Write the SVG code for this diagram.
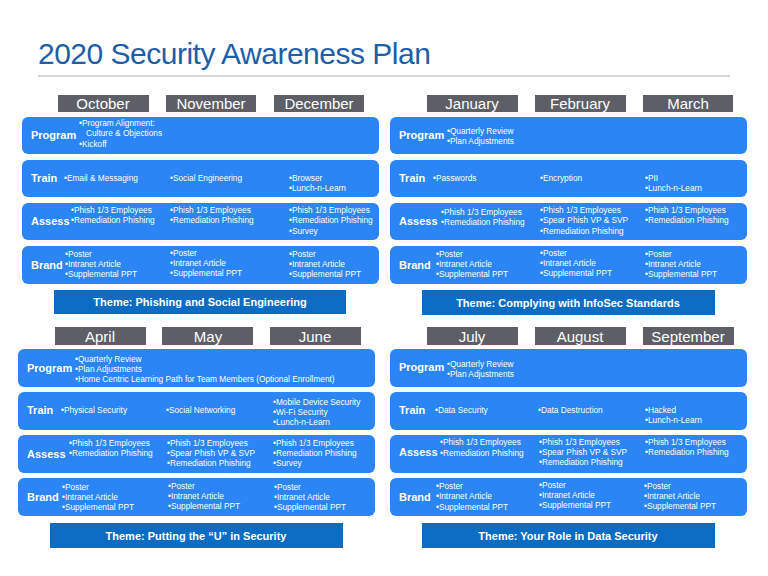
<svg xmlns="http://www.w3.org/2000/svg" width="768" height="576" viewBox="0 0 768 576">
<style>
.row{fill:#2b85f4}
.hd{fill:#5e5e66}
.th{fill:#0b6cc4}
.mt{font:15px "Liberation Sans",Arial,sans-serif;fill:#fff;text-anchor:middle}
.lb{font:bold 11px "Liberation Sans",Arial,sans-serif;fill:#fff}
.t{font:8.3px "Liberation Sans",Arial,sans-serif;fill:#fff}
.tt{font:bold 11px "Liberation Sans",Arial,sans-serif;fill:#fff;text-anchor:middle}
</style>
<rect width="768" height="576" fill="#fff"/>
<text x="38" y="64" font-family="Liberation Sans,Arial,sans-serif" font-size="30" fill="#1c5ea9" letter-spacing="-0.5">2020 Security Awareness Plan</text>
<line x1="38" y1="76" x2="730" y2="76" stroke="#b0b0b0" stroke-width="1"/>

<g id="q1">
<rect class="hd" x="58" y="95" width="91" height="17"/><text class="mt" x="103" y="109">October</text>
<rect class="hd" x="166" y="95" width="90" height="17"/><text class="mt" x="211" y="109">November</text>
<rect class="hd" x="274" y="95" width="90" height="17"/><text class="mt" x="319" y="109">December</text>
<rect class="row" x="22" y="117" width="357" height="37" rx="6"/>
<text class="lb" x="31" y="139">Program</text>
<text class="t" x="79" y="126">•Program Alignment:</text><text class="t" x="86" y="136">Culture &amp; Objections</text><text class="t" x="79" y="147">•Kickoff</text>
<rect class="row" x="22" y="160" width="357" height="37" rx="6"/>
<text class="lb" x="31" y="182">Train</text>
<text class="t" x="64" y="181">•Email &amp; Messaging</text><text class="t" x="170" y="181">•Social Engineering</text>
<text class="t" x="289" y="181">•Browser</text><text class="t" x="289" y="191">•Lunch-n-Learn</text>
<rect class="row" x="22" y="203" width="357" height="37" rx="6"/>
<text class="lb" x="31" y="225">Assess</text>
<text class="t" x="71" y="213">•Phish 1/3 Employees</text><text class="t" x="71" y="223">•Remediation Phishing</text>
<text class="t" x="170" y="213">•Phish 1/3 Employees</text><text class="t" x="170" y="223">•Remediation Phishing</text>
<text class="t" x="289" y="213">•Phish 1/3 Employees</text><text class="t" x="289" y="223">•Remediation Phishing</text><text class="t" x="289" y="234">•Survey</text>
<rect class="row" x="22" y="246" width="357" height="38" rx="6"/>
<text class="lb" x="31" y="269">Brand</text>
<text class="t" x="65" y="257">•Poster</text><text class="t" x="65" y="267">•Intranet Article</text><text class="t" x="65" y="277">•Supplemental  PPT</text>
<text class="t" x="170" y="256">•Poster</text><text class="t" x="170" y="266">•Intranet Article</text><text class="t" x="170" y="276">•Supplemental  PPT</text>
<text class="t" x="289" y="257">•Poster</text><text class="t" x="289" y="267">•Intranet Article</text><text class="t" x="289" y="277">•Supplemental  PPT</text>
<rect class="th" x="54" y="290" width="292" height="24"/><text class="tt" x="200" y="306">Theme: Phishing and Social Engineering</text>
</g>

<g id="q2">
<rect class="hd" x="427" y="95" width="91" height="17"/><text class="mt" x="472" y="109">January</text>
<rect class="hd" x="535" y="95" width="91" height="17"/><text class="mt" x="580" y="109">February</text>
<rect class="hd" x="643" y="95" width="90" height="17"/><text class="mt" x="688" y="109">March</text>
<rect class="row" x="390" y="117" width="357" height="37" rx="6"/>
<text class="lb" x="399" y="139">Program</text>
<text class="t" x="447" y="134">•Quarterly Review</text><text class="t" x="447" y="144">•Plan Adjustments</text>
<rect class="row" x="390" y="160" width="357" height="37" rx="6"/>
<text class="lb" x="399" y="182">Train</text>
<text class="t" x="433" y="181">•Passwords</text><text class="t" x="540" y="181">•Encryption</text>
<text class="t" x="645" y="181">•PII</text><text class="t" x="645" y="191">•Lunch-n-Learn</text>
<rect class="row" x="390" y="203" width="357" height="37" rx="6"/>
<text class="lb" x="399" y="225">Assess</text>
<text class="t" x="441" y="215">•Phish 1/3 Employees</text><text class="t" x="441" y="225">•Remediation Phishing</text>
<text class="t" x="540" y="213">•Phish 1/3 Employees</text><text class="t" x="540" y="223">•Spear Phish VP &amp; SVP</text><text class="t" x="540" y="234">•Remediation Phishing</text>
<text class="t" x="645" y="213">•Phish 1/3 Employees</text><text class="t" x="645" y="223">•Remediation Phishing</text>
<rect class="row" x="390" y="246" width="357" height="38" rx="6"/>
<text class="lb" x="399" y="269">Brand</text>
<text class="t" x="436" y="257">•Poster</text><text class="t" x="436" y="267">•Intranet Article</text><text class="t" x="436" y="277">•Supplemental  PPT</text>
<text class="t" x="540" y="256">•Poster</text><text class="t" x="540" y="266">•Intranet Article</text><text class="t" x="540" y="276">•Supplemental  PPT</text>
<text class="t" x="645" y="257">•Poster</text><text class="t" x="645" y="267">•Intranet Article</text><text class="t" x="645" y="277">•Supplemental  PPT</text>
<rect class="th" x="422" y="290" width="293" height="25"/><text class="tt" x="568" y="307">Theme: Complying with InfoSec Standards</text>
</g>

<g id="q3">
<rect class="hd" x="55" y="327" width="91" height="18"/><text class="mt" x="100" y="342">April</text>
<rect class="hd" x="162" y="327" width="91" height="18"/><text class="mt" x="208" y="342">May</text>
<rect class="hd" x="270" y="327" width="91" height="18"/><text class="mt" x="315" y="342">June</text>
<rect class="row" x="18" y="349" width="357" height="38" rx="6"/>
<text class="lb" x="27" y="372">Program</text>
<text class="t" x="75" y="362">•Quarterly Review</text><text class="t" x="75" y="372">•Plan Adjustments</text><text class="t" x="75" y="382">•Home Centric Learning Path for Team Members (Optional Enrollment)</text>
<rect class="row" x="18" y="392" width="357" height="38" rx="6"/>
<text class="lb" x="27" y="414">Train</text>
<text class="t" x="61" y="413">•Physical Security</text><text class="t" x="166" y="413">•Social Networking</text>
<text class="t" x="273" y="405">•Mobile Device  Security</text><text class="t" x="273" y="415">•Wi-Fi Security</text><text class="t" x="273" y="425">•Lunch-n-Learn</text>
<rect class="row" x="18" y="435" width="357" height="38" rx="6"/>
<text class="lb" x="27" y="458">Assess</text>
<text class="t" x="69" y="446">•Phish 1/3 Employees</text><text class="t" x="69" y="456">•Remediation Phishing</text>
<text class="t" x="167" y="446">•Phish 1/3 Employees</text><text class="t" x="167" y="456">•Spear Phish VP &amp; SVP</text><text class="t" x="167" y="466">•Remediation Phishing</text>
<text class="t" x="273" y="446">•Phish 1/3 Employees</text><text class="t" x="273" y="456">•Remediation Phishing</text><text class="t" x="273" y="466">•Survey</text>
<rect class="row" x="18" y="478" width="357" height="38" rx="6"/>
<text class="lb" x="27" y="501">Brand</text>
<text class="t" x="62" y="490">•Poster</text><text class="t" x="62" y="500">•Intranet Article</text><text class="t" x="62" y="510">•Supplemental  PPT</text>
<text class="t" x="168" y="489">•Poster</text><text class="t" x="168" y="499">•Intranet Article</text><text class="t" x="168" y="509">•Supplemental  PPT</text>
<text class="t" x="274" y="490">•Poster</text><text class="t" x="274" y="500">•Intranet Article</text><text class="t" x="274" y="510">•Supplemental  PPT</text>
<rect class="th" x="50" y="523" width="293" height="25"/><text class="tt" x="196" y="540">Theme: Putting the “U” in Security</text>
</g>

<g id="q4">
<rect class="hd" x="427" y="327" width="91" height="18"/><text class="mt" x="472" y="342">July</text>
<rect class="hd" x="535" y="327" width="91" height="18"/><text class="mt" x="580" y="342">August</text>
<rect class="hd" x="643" y="327" width="91" height="18"/><text class="mt" x="688" y="342">September</text>
<rect class="row" x="390" y="349" width="357" height="38" rx="6"/>
<text class="lb" x="399" y="371">Program</text>
<text class="t" x="447" y="367">•Quarterly Review</text><text class="t" x="447" y="377">•Plan Adjustments</text>
<rect class="row" x="390" y="392" width="357" height="38" rx="6"/>
<text class="lb" x="399" y="414">Train</text>
<text class="t" x="435" y="413">•Data Security</text><text class="t" x="538" y="413">•Data Destruction</text>
<text class="t" x="645" y="413">•Hacked</text><text class="t" x="645" y="423">•Lunch-n-Learn</text>
<rect class="row" x="390" y="435" width="357" height="38" rx="6"/>
<text class="lb" x="399" y="456">Assess</text>
<text class="t" x="440" y="445">•Phish 1/3 Employees</text><text class="t" x="440" y="456">•Remediation Phishing</text>
<text class="t" x="539" y="445">•Phish 1/3 Employees</text><text class="t" x="539" y="455">•Spear Phish VP &amp; SVP</text><text class="t" x="539" y="465">•Remediation Phishing</text>
<text class="t" x="645" y="445">•Phish 1/3 Employees</text><text class="t" x="645" y="455">•Remediation Phishing</text>
<rect class="row" x="390" y="478" width="357" height="38" rx="6"/>
<text class="lb" x="399" y="501">Brand</text>
<text class="t" x="436" y="489">•Poster</text><text class="t" x="436" y="499">•Intranet Article</text><text class="t" x="436" y="510">•Supplemental  PPT</text>
<text class="t" x="539" y="488">•Poster</text><text class="t" x="539" y="498">•Intranet Article</text><text class="t" x="539" y="508">•Supplemental  PPT</text>
<text class="t" x="644" y="489">•Poster</text><text class="t" x="644" y="499">•Intranet Article</text><text class="t" x="644" y="509">•Supplemental  PPT</text>
<rect class="th" x="422" y="523" width="293" height="25"/><text class="tt" x="568" y="540">Theme: Your Role in Data Security</text>
</g>
</svg>
